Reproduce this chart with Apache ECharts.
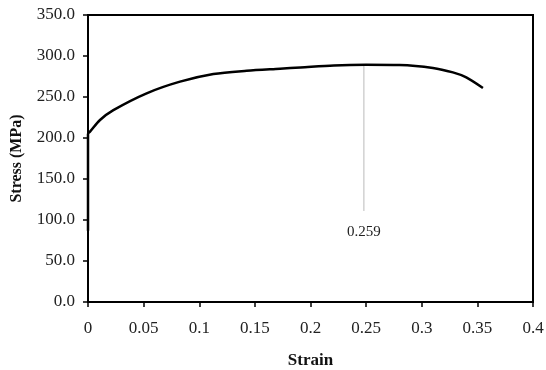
<!DOCTYPE html>
<html>
<head>
<meta charset="utf-8">
<script src="https://cdn.jsdelivr.net/npm/echarts@6/dist/echarts.min.js"></script>
<style>
html,body{margin:0;padding:0;background:#fff;}
#chart{width:546px;height:370px;}
</style>
</head>
<body>
<div id="chart"></div>
<script>
// stress-strain curve
var strain = [0, 0, 0.002, 0.0108, 0.0228, 0.0527, 0.0827, 0.1127, 0.1426, 0.1726, 0.191, 0.221, 0.25, 0.28, 0.31, 0.328, 0.34, 0.355];
var stress = [87, 205, 208, 222, 234, 254.5, 268.7, 278, 282, 284.5, 286, 288.5, 289.3, 289, 285.5, 280, 274, 261];

// gray marker line and its label
var markStrain = [0.248, 0.248];
var markStress = [289.3, 111];
var markText = '0.259';

var curve = strain.map(function (s, i) { return [s, stress[i]]; });
var marker = markStrain.map(function (s, i) { return [s, markStress[i]]; });

var font = 'Liberation Serif';
var myChart = echarts.init(document.getElementById('chart'));
var option = {
    animation: false,
    grid: {
        left: 88,
        right: 13,
        top: 15,
        bottom: 68,
        outerBoundsMode: 'none',
        containLabel: false,
        show: true,
        borderColor: '#000',
        borderWidth: 2
    },
    xAxis: {
        type: 'value',
        min: 0,
        max: 0.4,
        interval: 0.05,
        name: 'Strain',
        nameLocation: 'middle',
        nameGap: 50,
        nameTextStyle: { fontFamily: font, fontWeight: 'bold', fontSize: 17, color: '#111' },
        axisLine: { lineStyle: { color: '#000', width: 2 } },
        axisTick: { show: true, inside: false, length: 5, lineStyle: { color: '#000', width: 1.5 } },
        splitLine: { show: false },
        axisLabel: {
            fontFamily: font,
            fontSize: 17,
            color: '#222',
            margin: 18,
            formatter: function (v) { return String(parseFloat(v.toFixed(2))); }
        }
    },
    yAxis: {
        type: 'value',
        min: 0,
        max: 350,
        interval: 50,
        name: 'Stress (MPa)',
        nameLocation: 'middle',
        nameGap: 63,
        nameTextStyle: { fontFamily: font, fontWeight: 'bold', fontSize: 16, color: '#111' },
        axisLine: { show: true, lineStyle: { color: '#000', width: 2 } },
        axisTick: { show: true, inside: false, length: 5, lineStyle: { color: '#000', width: 1.5 } },
        splitLine: { show: false },
        axisLabel: {
            fontFamily: font,
            fontSize: 17,
            color: '#222',
            margin: 13,
            formatter: function (v) { return v.toFixed(1); }
        }
    },
    series: [
        {
            type: 'line',
            data: marker,
            symbol: 'none',
            silent: true,
            lineStyle: { color: '#bbb', width: 1 },
            label: { show: false },
            markPoint: {
                symbol: 'circle',
                symbolSize: 0,
                data: [{
                    coord: marker[1],
                    label: {
                        show: true,
                        formatter: markText,
                        position: 'bottom',
                        distance: 14,
                        fontFamily: font,
                        fontSize: 15,
                        color: '#222'
                    }
                }]
            }
        },
        {
            type: 'line',
            data: curve,
            symbol: 'none',
            smooth: 0.3,
            lineStyle: { color: '#000', width: 2.5 }
        }
    ]
};
myChart.setOption(option);
window.addEventListener('resize', function () { myChart.resize(); });
</script>
</body>
</html>
